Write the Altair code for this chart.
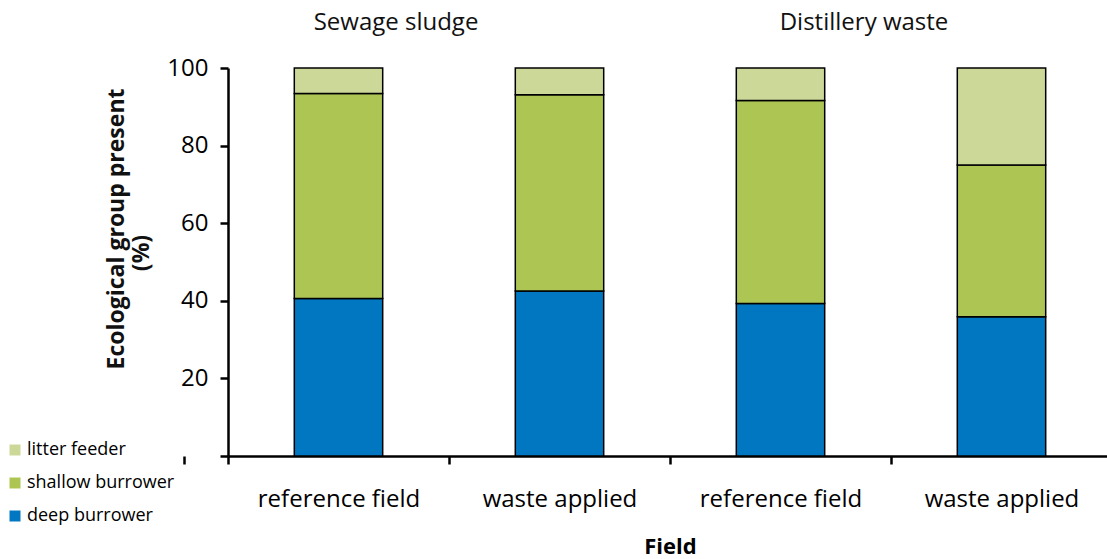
import altair as alt
import pandas as pd

# Field categories (treatment group | field type)
fields = [
    "Sewage sludge|reference field",
    "Sewage sludge|waste applied",
    "Distillery waste|reference field",
    "Distillery waste|waste applied",
]
# Ecological group shares (%) per field
deep_burrower = [40.6, 42.5, 39.3, 35.9]
shallow_burrower = [52.8, 50.6, 52.3, 39.1]
litter_feeder = [6.6, 6.9, 8.4, 25.0]

group_names = ["litter feeder", "shallow burrower", "deep burrower"]
group_colors = ["#ccd898", "#adc653", "#0077c0"]
group_titles = ["Sewage sludge", "Distillery waste"]

FONT = "Open Sans"

rows = []
for i, f in enumerate(fields):
    for order, (name, vals) in enumerate(
        [("deep burrower", deep_burrower),
         ("shallow burrower", shallow_burrower),
         ("litter feeder", litter_feeder)]
    ):
        rows.append({"field": f, "group": name, "value": vals[i], "order": order})
df = pd.DataFrame(rows)

bars = alt.Chart(df).mark_bar(stroke="black", strokeWidth=1.5).encode(
    x=alt.X(
        "field:N",
        sort=fields,
        scale=alt.Scale(range=[0, 884], paddingInner=0.6, paddingOuter=0.3),
        axis=alt.Axis(
            title="Field",
            labelExpr="split(datum.label, '|')[1]",
            labelAngle=0,
            labelFont=FONT,
            labelFontSize=24,
            labelColor="black",
            labelPadding=23,
            ticks=True,
            tickSize=8,
            tickWidth=2.5,
            tickColor="black",
            # ticks sit on the boundaries between bands, labels stay centred
            tickOffset=-110.5,
            labelOffset=110.5,
            tickExtra=True,
            domainColor="black",
            domainWidth=2.5,
            titleFont=FONT,
            titleFontSize=22,
            titleFontWeight="bold",
            titleColor="black",
            titlePadding=25,
            grid=False,
        ),
    ),
    y=alt.Y(
        "value:Q",
        stack="zero",
        scale=alt.Scale(domain=[0, 100], nice=False),
        axis=alt.Axis(
            title=None,
            values=[0, 20, 40, 60, 80, 100],
            labelExpr="datum.value == 0 ? '' : datum.label",
            labelFont=FONT,
            labelFontSize=24,
            labelColor="black",
            labelPadding=12,
            tickSize=8,
            tickWidth=2.5,
            tickColor="black",
            domainColor="black",
            domainWidth=2.5,
            grid=False,
        ),
    ),
    color=alt.Color(
        "group:N",
        scale=alt.Scale(domain=group_names, range=group_colors),
        legend=alt.Legend(
            title=None,
            orient="none",
            legendX=-222,
            legendY=373,
            symbolType="square",
            symbolSize=121,
            symbolStrokeWidth=0,
            labelFont=FONT,
            labelFontSize=18,
            labelColor="black",
            labelOffset=3,
            rowPadding=15,
            padding=0,
        ),
    ),
    order=alt.Order("order:Q"),
)


def label(text, x, y, size, weight="normal", angle=0):
    return alt.Chart(pd.DataFrame({"t": [text]})).mark_text(
        font=FONT, fontSize=size, fontWeight=weight, color="#111111",
        angle=angle, align="center", baseline="middle",
    ).encode(x=alt.value(x), y=alt.value(y), text="t:N")


# Treatment group headings above each pair of bars
head1 = label(group_titles[0], 168, -45, 24)
head2 = label(group_titles[1], 636, -45, 24)

# Two-line y-axis title
ytitle1 = label("Ecological group present", -111, 161, 23, "bold", 270)
ytitle2 = label("(%)", -86, 185, 23, "bold", 270)

chart = alt.layer(bars, head1, head2, ytitle1, ytitle2).properties(
    width=879,
    height=388,
    autosize=alt.AutoSizeParams(type="none"),
    padding={"left": 228, "top": 68, "right": 0, "bottom": 103},
    background="white",
).configure_view(stroke=None)

chart.save("out.html", embed_options={"renderer": "svg", "actions": False})
